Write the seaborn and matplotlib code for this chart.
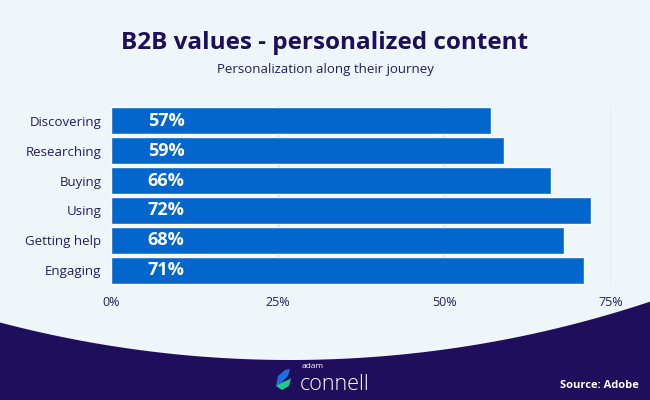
import numpy as np
import pandas as pd
import matplotlib
matplotlib.use("Agg")
import matplotlib.pyplot as plt
import seaborn as sns
from matplotlib.patches import Polygon

# data
stages = ["Discovering", "Researching", "Buying", "Using", "Getting help", "Engaging"]
values = [57, 59, 66, 72, 68, 71]
xticks = [0, 25, 50, 75]
xtick_labels = ["0%", "25%", "50%", "75%"]

df = pd.DataFrame({"stage": stages, "value": values})

BG = "#EFF6FA"
NAVY = "#1E0E5B"
TEXT = "#241C5E"
BAR = "#0366CC"

sns.set_theme(style="white")
plt.rcParams["font.family"] = ["Open Sans", "DejaVu Sans"]

fig = plt.figure(figsize=(6.5, 4.0), dpi=100)
fig.patch.set_facecolor(BG)

# background with curved dark footer (pixel coordinates)
bg = fig.add_axes([0, 0, 1, 1], zorder=0)
bg.set_xlim(0, 650)
bg.set_ylim(400, 0)
bg.axis("off")
cx, cy_bottom, R = 290, 360, 1140
xs = np.linspace(0, 650, 300)
curve = (cy_bottom - R) + np.sqrt(R**2 - (xs - cx) ** 2)
bg.fill_between(xs, curve, 400, color=NAVY, lw=0)

# logo icon
bg.add_patch(Polygon([[276, 386], [278, 376], [285, 370], [290, 369], [288, 376], [281, 383]],
                     closed=True, color="#1B6FE0", lw=0))
bg.add_patch(Polygon([[276, 386], [281, 383], [288, 380], [291, 378], [289, 386], [282, 390]],
                     closed=True, color="#22C98A", lw=0))
bg.text(302, 367, "adam", color="white", fontsize=6, ha="left", va="center")
bg.text(300, 390, "connell", color="white", fontsize=15.5, fontweight="light",
        ha="left", va="baseline")
bg.text(639, 385, "Source: Adobe", color="white", fontsize=8, fontweight="bold",
        ha="right", va="center")

# titles
bg.text(325, 43, "B2B values - personalized content", color=NAVY, fontsize=17.5,
        fontweight="bold", ha="center", va="center")
bg.text(325, 69, "Personalization along their journey", color=TEXT, fontsize=9.5,
        ha="center", va="center")

# main bar chart
ax = fig.add_axes([111 / 650, (400 - 285) / 400, 500 / 650, 179 / 400], zorder=1)
ax.set_facecolor("none")
sns.barplot(data=df, x="value", y="stage", orient="h", color=BAR, width=0.91,
            saturation=1, ax=ax, zorder=2)
ax.set_xlim(0, 75)
ax.set_ylim(5.5, -0.5)
ax.set_xticks(xticks)
ax.set_xticklabels(xtick_labels)
for t in xticks[1:]:
    ax.axvline(t, color="#C3C8D2", lw=1, zorder=1)
for s in ax.spines.values():
    s.set_visible(False)
ax.set_xlabel("")
ax.set_ylabel("")
ax.tick_params(axis="both", length=0, colors=TEXT, labelsize=9.5)
ax.tick_params(axis="x", pad=8, labelsize=9)
ax.tick_params(axis="y", pad=7)

for i, v in enumerate(values):
    ax.text(5.5, i, f"{v}%", color="white", fontsize=13, fontweight="bold",
            ha="left", va="center", zorder=3)

fig.savefig("out.png", dpi=100, facecolor=BG)
